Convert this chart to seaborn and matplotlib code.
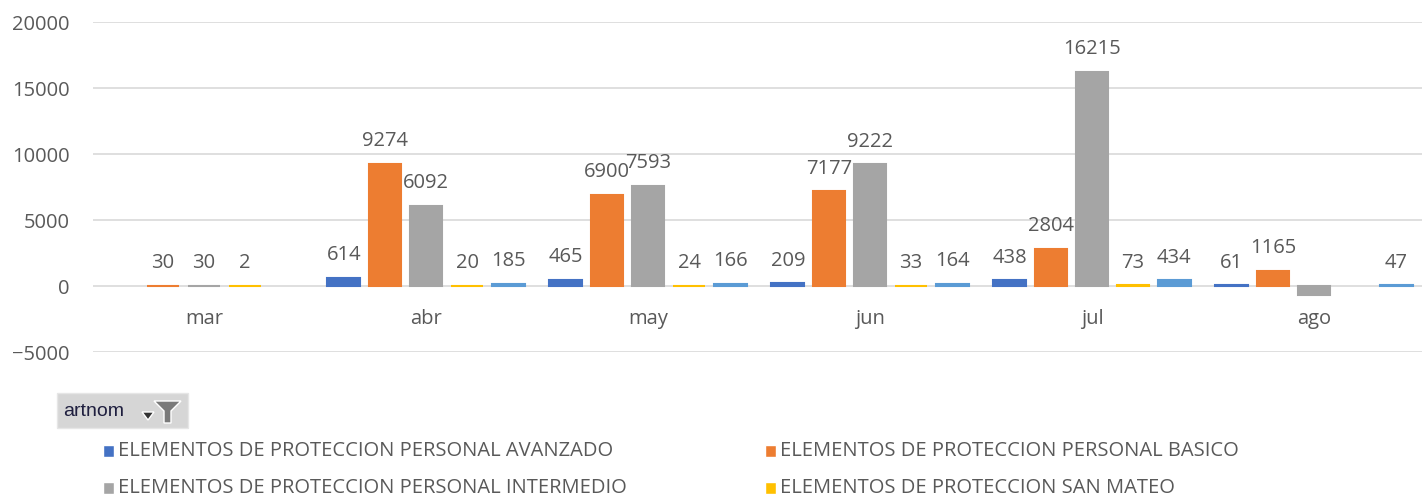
import numpy as np
import pandas as pd
import matplotlib
matplotlib.use("Agg")
import matplotlib.pyplot as plt
from matplotlib.patches import Rectangle, Polygon
import seaborn as sns

# data (NaN = no bar in that month)
months = ["mar", "abr", "may", "jun", "jul", "ago"]
series = [
    "ELEMENTOS DE PROTECCION PERSONAL AVANZADO",
    "ELEMENTOS DE PROTECCION PERSONAL BASICO",
    "ELEMENTOS DE PROTECCION PERSONAL INTERMEDIO",
    "ELEMENTOS DE PROTECCION SAN MATEO",
    "ELEMENTOS DE PROTECCION SAN MATEO INTERMEDIO",
]
avanzado = [np.nan, 614, 465, 209, 438, 61]
basico = [30, 9274, 6900, 7177, 2804, 1165]
intermedio = [30, 6092, 7593, 9222, 16215, -700]
san_mateo = [2, 20, 24, 33, 73, np.nan]
otro = [np.nan, 185, 166, 164, 434, 47]
colors = ["#4472C4", "#ED7D31", "#A5A5A5", "#FFC000", "#5B9BD5"]

rows = []
for name, vals in zip(series, [avanzado, basico, intermedio, san_mateo, otro]):
    for m, v in zip(months, vals):
        rows.append({"mes": m, "serie": name, "valor": v})
df = pd.DataFrame(rows).dropna()

sns.set_style("white")
plt.rcParams["font.family"] = ["Open Sans", "DejaVu Sans"]
txt = "#595959"

fig = plt.figure(figsize=(14.22, 4.96), dpi=100)
ax = fig.add_axes([93 / 1422, 1 - 352 / 496, 1332 / 1422, 330 / 496])

sns.barplot(data=df, x="mes", y="valor", hue="serie", order=months,
            hue_order=series, palette=colors, saturation=1, width=0.925, gap=0.2,
            errorbar=None, legend=False, ax=ax)

for c in ax.containers:
    for p in c:
        p.set_edgecolor(p.get_facecolor())
        p.set_linewidth(1.5)
    labels = [f"{v:.0f}" if v > 0 else "" for v in c.datavalues]
    ax.bar_label(c, labels=labels, padding=9, fontsize=14.5, color=txt)

ax.set_ylim(-5000, 20000)
ax.set_xlim(-0.5, 5.5)
ax.set_yticks(range(-5000, 20001, 5000))
ax.tick_params(axis="y", labelsize=14.5, colors=txt, length=0, pad=17)
ax.set_xticks([])
for i, m in enumerate(months):
    ax.annotate(m, (i, 0), xytext=(0, -24), textcoords="offset points",
                ha="center", va="center", fontsize=14.5, color=txt)
ax.yaxis.grid(True, color="#D9D9D9", lw=1.2)
ax.set_axisbelow(True)
ax.set_xlabel("")
ax.set_ylabel("")
sns.despine(ax=ax, left=True, bottom=True, top=True, right=True)

# filter button
fig.patches.append(Rectangle((57 / 1422, 1 - 428 / 496), 131 / 1422, 35 / 496,
                             transform=fig.transFigure, facecolor="#D6D6D6",
                             edgecolor="#E6E6E6", lw=1))
fig.text(63 / 1422, 1 - 411 / 496, "artnom", fontsize=14, color="#1F1F3F",
         va="center", ha="left", family="Liberation Sans")
fig.patches.append(Polygon([[142 / 1422, 1 - 412 / 496], [154 / 1422, 1 - 412 / 496],
                            [148 / 1422, 1 - 420 / 496]], closed=True,
                           transform=fig.transFigure, facecolor="#333333"))
fig.patches.append(Polygon([[154 / 1422, 1 - 401 / 496], [181 / 1422, 1 - 401 / 496],
                            [171 / 1422, 1 - 411 / 496], [171 / 1422, 1 - 423 / 496],
                            [164 / 1422, 1 - 423 / 496], [164 / 1422, 1 - 411 / 496]],
                           closed=True, transform=fig.transFigure, facecolor="#7A7A7A"))

# legend, two columns; the third row lies below the canvas in the original
for i, (name, col) in enumerate(zip(series, colors)):
    if i >= 4:
        break
    x = [103, 765][i % 2] / 1422
    y = 1 - (451 + 37 * (i // 2)) / 496
    fig.patches.append(Rectangle((x, y - 6 / 496), 11 / 1422, 12 / 496,
                                 transform=fig.transFigure, facecolor=col))
    fig.text(x + 15 / 1422, y, name, fontsize=14.5, color=txt, va="center", ha="left")

fig.savefig("out.png", dpi=100)
